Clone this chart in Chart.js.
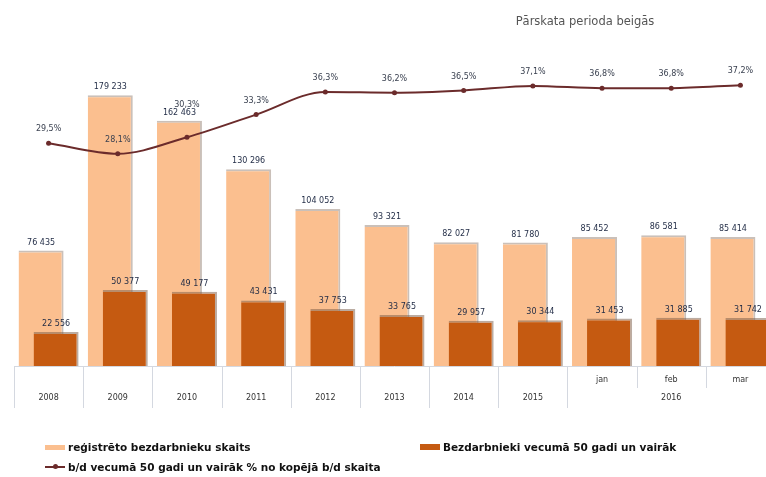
<!DOCTYPE html>
<html>
<head>
<meta charset="utf-8">
<script src="https://cdn.jsdelivr.net/npm/chart.js@4.4.1/dist/chart.umd.min.js"></script>
<style>
  html, body { margin: 0; padding: 0; background: #fff; }
  body { width: 766px; height: 477px; overflow: hidden; position: relative; font-family: "DejaVu Sans", sans-serif; }
  #wrap { position: absolute; left: 0; top: 0; width: 790px; height: 477px; }
  #title { position: absolute; top: 14px; left: 500px; width: 170px; text-align: center; font-size: 11.5px; color: #555; }
  .lg { position: absolute; font-size: 10.5px; font-weight: bold; color: #111; white-space: nowrap; line-height: 12px; }
  .sw { display: inline-block; vertical-align: middle; margin-right: 3px; position: relative; top: -1px; }
</style>
</head>
<body>
<div id="wrap"><canvas id="chart" width="790" height="477"></canvas></div>
<div id="title">Pārskata perioda beigās</div>
<div class="lg" style="left:45px;top:441px;"><span class="sw" style="width:20px;height:5px;background:#fbbf8f;"></span>reģistrēto bezdarbnieku skaits</div>
<div class="lg" style="left:420px;top:441px;"><span class="sw" style="width:20px;height:6px;background:#c55a11;"></span>Bezdarbnieki vecumā 50 gadi un vairāk</div>
<div class="lg" style="left:45px;top:461px;"><span class="sw" style="width:20px;height:2px;background:#6b2b2b;"><span style="position:absolute;left:8px;top:-2px;width:5px;height:5px;border-radius:50%;background:#6b2b2b;"></span></span>b/d vecumā 50 gadi un vairāk % no kopējā b/d skaita</div>

<script>
(function () {
  'use strict';

  // periods: month row and year row of the axis table
  var monthLabels = ['', '', '', '', '', '', '', '', 'jan', 'feb', 'mar'];
  var yearLabels = ['2008', '2009', '2010', '2011', '2012', '2013', '2014', '2015', '2016', '2016', '2016'];

  var registered = [76435, 179233, 162463, 130296, 104052, 93321, 82027, 81780, 85452, 86581, 85414];
  var over50 = [22556, 50377, 49177, 43431, 37753, 33765, 29957, 30344, 31453, 31885, 31742];
  var sharePct = [29.5, 28.1, 30.3, 33.3, 36.3, 36.2, 36.5, 37.1, 36.8, 36.8, 37.2];

  var categories = yearLabels.map(function (y, i) { return monthLabels[i] ? monthLabels[i] + ' ' + y : y; });

  var LIGHT = '#fbbf8f';
  var DARK = '#c55a11';
  var LINE = '#6b2b2b';

  function fmtNum(n) {
    return String(n).replace(/\B(?=(\d{3})+(?!\d))/g, ' ');
  }

  function fmtPct(n) {
    return n.toFixed(1).replace('.', ',') + '%';
  }

  // dark bars sit on the right half but must be painted over the light ones
  var barOrder = {
    id: 'barOrder',
    beforeDatasetDraw: function (chart, args) {
      if (args.index === 1 && !chart.$darkNow) {
        return false;
      }
    },
    afterDatasetDraw: function (chart, args) {
      if (args.index === 0) {
        chart.$darkNow = true;
        chart._drawDataset(chart.getDatasetMeta(1));
        chart.$darkNow = false;
      }
    }
  };

  var valueLabels = {
    id: 'valueLabels',
    afterDatasetsDraw: function (chart) {
      var ctx = chart.ctx;
      ctx.save();
      ctx.font = '8px "DejaVu Sans"';
      ctx.textAlign = 'center';
      ctx.textBaseline = 'bottom';
      ctx.fillStyle = '#1f2a44';
      chart.getDatasetMeta(0).data.forEach(function (bar, i) {
        ctx.fillText(fmtNum(registered[i]), bar.x, bar.y - 4);
      });
      chart.getDatasetMeta(1).data.forEach(function (bar, i) {
        ctx.fillText(fmtNum(over50[i]), bar.x, bar.y - 4);
      });
      ctx.fillStyle = '#3a4150';
      chart.getDatasetMeta(2).data.forEach(function (pt, i) {
        var lift = i === 2 ? 28 : 10;
        ctx.fillText(fmtPct(sharePct[i]), pt.x, pt.y - lift);
      });
      ctx.restore();
    }
  };

  var axisTable = {
    id: 'axisTable',
    afterDraw: function (chart) {
      var ctx = chart.ctx;
      var xs = chart.scales.x;
      var bottom = chart.chartArea.bottom;
      var n = categories.length;
      var w = (xs.right - xs.left) / n;
      ctx.save();
      ctx.strokeStyle = '#d4d8e0';
      ctx.lineWidth = 1;
      ctx.beginPath();
      ctx.moveTo(xs.left, bottom + 0.5);
      ctx.lineTo(xs.right, bottom + 0.5);
      for (var i = 0; i <= n; i++) {
        var bx = Math.round(xs.left + i * w) + 0.5;
        var inner = i > 0 && i < n && yearLabels[i] === yearLabels[i - 1];
        ctx.moveTo(bx, bottom);
        ctx.lineTo(bx, bottom + (inner ? 22 : 42));
      }
      ctx.stroke();

      ctx.font = '8px "DejaVu Sans"';
      ctx.fillStyle = '#333';
      ctx.textAlign = 'center';
      ctx.textBaseline = 'middle';
      monthLabels.forEach(function (m, i) {
        if (m) {
          ctx.fillText(m, xs.getPixelForValue(i), bottom + 14);
        }
      });
      var start = 0;
      for (var j = 1; j <= n; j++) {
        if (j === n || yearLabels[j] !== yearLabels[start]) {
          var cx = (xs.getPixelForValue(start) + xs.getPixelForValue(j - 1)) / 2;
          ctx.fillText(yearLabels[start], cx, bottom + 32);
          start = j;
        }
      }
      ctx.restore();
    }
  };

  new Chart(document.getElementById('chart'), {
    type: 'bar',
    data: {
      labels: categories,
      datasets: [{
        label: 'reģistrēto bezdarbnieku skaits',
        data: registered,
        backgroundColor: LIGHT,
        borderColor: 'rgba(150, 130, 115, 0.5)',
        borderWidth: { top: 2, right: 2, left: 0, bottom: 0 },
        borderSkipped: false,
        categoryPercentage: 0.434,
        barPercentage: 3.0,
        yAxisID: 'y'
      }, {
        label: 'Bezdarbnieki vecumā 50 gadi un vairāk',
        data: over50,
        backgroundColor: DARK,
        borderColor: 'rgba(120, 90, 70, 0.5)',
        borderWidth: { top: 2, right: 2, left: 0, bottom: 0 },
        borderSkipped: false,
        categoryPercentage: 0.434,
        barPercentage: 3.0,
        yAxisID: 'y'
      }, {
        type: 'line',
        label: 'b/d vecumā 50 gadi un vairāk % no kopējā b/d skaita',
        data: sharePct,
        yAxisID: 'y1',
        order: -1,
        borderColor: LINE,
        backgroundColor: LINE,
        borderWidth: 2,
        cubicInterpolationMode: 'monotone',
        pointRadius: 2.5,
        pointBackgroundColor: LINE,
        pointBorderWidth: 0
      }]
    },
    options: {
      responsive: false,
      animation: false,
      devicePixelRatio: 1,
      layout: { padding: { left: 14, right: 15, top: 64, bottom: 111 } },
      plugins: {
        legend: { display: false },
        tooltip: { enabled: false },
        title: { display: false }
      },
      scales: {
        x: { display: false, offset: true, grid: { display: false } },
        y: { display: false, min: 0, max: 200000 },
        y1: { display: false, min: 0, max: 40, position: 'right' }
      }
    },
    plugins: [barOrder, valueLabels, axisTable]
  });
})();
</script>
</body>
</html>
